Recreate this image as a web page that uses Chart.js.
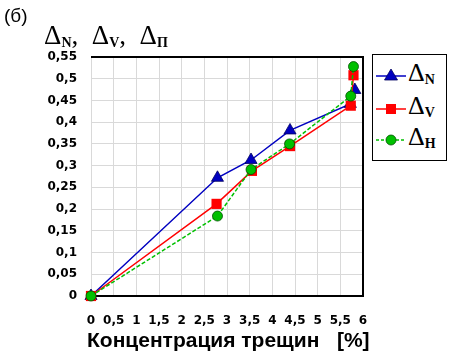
<!DOCTYPE html>
<html><head><meta charset="utf-8">
<script src="https://cdn.jsdelivr.net/npm/chart.js@4"></script>
<style>
html,body{margin:0;padding:0;background:#fff;}
#wrap{position:relative;width:452px;height:357px;overflow:hidden;}
canvas{position:absolute;left:0;top:0;}
.t{position:absolute;white-space:nowrap;color:#000;}
.serif{font-family:"Liberation Serif","DejaVu Serif",serif;}
#legend{position:absolute;left:372px;top:54px;width:75px;height:107px;border:1px solid #000;background:#fff;box-sizing:border-box;}
.le{position:absolute;left:2px;height:24px;}
.le svg{position:absolute;left:0;top:2px;}
.le .lab{position:absolute;left:33px;top:-6px;font-family:"Liberation Serif","DejaVu Serif",serif;font-size:26px;}
.le .lab sub{font-size:14px;font-weight:bold;vertical-align:-3px;}
.ts sub{font-size:14px;font-weight:bold;vertical-align:-3px;}
</style></head>
<body><div id="wrap">
<canvas id="c" width="452" height="357"></canvas>
<div class="t" style="left:4px;top:5px;font-family:'Liberation Sans',Arial,sans-serif;font-size:19px;">(б)</div>
<div class="t serif ts" style="left:44px;top:20px;font-size:27px;">Δ<sub>N</sub>,&nbsp; Δ<sub>V</sub>,&nbsp; Δ<sub>П</sub></div>
<div class="t" id="xt" style="left:87px;top:328px;font-family:'Liberation Sans',Arial,sans-serif;font-weight:bold;font-size:21px;">Концентрация трещин&nbsp;&nbsp;&nbsp;[%]</div>
<div id="legend">
 <div class="le" style="top:9px"><svg width="32" height="20"><line x1="1" y1="10" x2="31" y2="10" stroke="#0000c0" stroke-width="1.5"/><polygon points="16,3 22.5,14 9.5,14" fill="#0000c0" stroke="#000060" stroke-width="0.8"/></svg><span class="lab">Δ<sub>N</sub></span></div>
 <div class="le" style="top:42px"><svg width="32" height="20"><line x1="1" y1="10" x2="31" y2="10" stroke="#ff0000" stroke-width="1.5"/><rect x="11" y="5" width="10" height="10" fill="#ff0000"/></svg><span class="lab">Δ<sub>V</sub></span></div>
 <div class="le" style="top:73px"><svg width="32" height="20"><line x1="1" y1="10" x2="31" y2="10" stroke="#00c000" stroke-width="1.5" stroke-dasharray="3,2"/><circle cx="16" cy="10" r="5" fill="#00c000" stroke="#005000" stroke-width="0.8"/></svg><span class="lab">Δ<sub>H</sub></span></div>
</div>
</div>
<script>
const xValuesN = [0, 2.79, 3.53, 4.39, 5.72, 5.82];
const dN = [0, 0.272, 0.313, 0.381, 0.442, 0.474];
const xValuesV = [0, 2.77, 3.55, 4.39, 5.73, 5.79];
const dV = [0, 0.212, 0.288, 0.345, 0.438, 0.508];
const xValuesH = [0, 2.79, 3.53, 4.38, 5.73, 5.79];
const dH = [0, 0.184, 0.291, 0.350, 0.460, 0.528];
const xTicks = [0,0.5,1,1.5,2,2.5,3,3.5,4,4.5,5,5.5,6];
const yTicks = [0,0.05,0.1,0.15,0.2,0.25,0.3,0.35,0.4,0.45,0.5,0.55];

const pts = (xs, ys) => xs.map((x, i) => ({x: x, y: ys[i]}));
const fmt = v => String(Math.round(v*100)/100).replace('.', ',');

const frame = {
  id: 'frame',
  beforeDatasetsDraw(chart) {
    const a = chart.chartArea, ctx = chart.ctx;
    ctx.save();
    ctx.strokeStyle = '#000'; ctx.lineWidth = 2;
    ctx.beginPath();
    ctx.moveTo(a.left, a.top); ctx.lineTo(a.right, a.top); ctx.lineTo(a.right, a.bottom); ctx.lineTo(a.left, a.bottom);
    ctx.stroke();
    ctx.restore();
  }
};

new Chart(document.getElementById('c'), {
  type: 'scatter',
  data: {
    datasets: [
      {data: pts(xValuesN, dN), showLine: true, borderColor: '#0000c0', borderWidth: 1.5, pointStyle: 'triangle', pointRadius: 7, backgroundColor: '#0000c0', pointBorderColor: '#000060', pointBorderWidth: 0.8, order: 3, clip: false},
      {data: pts(xValuesV, dV), showLine: true, borderColor: '#ff0000', borderWidth: 1.5, pointStyle: 'rect', pointRadius: 7.2, backgroundColor: '#ff0000', pointBorderColor: '#ff0000', pointBorderWidth: 0, order: 2, clip: false},
      {data: pts(xValuesH, dH), showLine: true, borderColor: '#00c000', borderWidth: 1.5, borderDash: [4, 2], pointStyle: 'circle', pointRadius: 5, backgroundColor: '#00c000', pointBorderColor: '#005000', pointBorderWidth: 0.8, order: 1, clip: false}
    ]
  },
  options: {
    responsive: false, animation: false, devicePixelRatio: 1,
    layout: {padding: {left: 0, top: 57, right: 89, bottom: 0}},
    plugins: {legend: {display: false}, tooltip: {enabled: false}},
    scales: {
      x: {
        type: 'linear', min: 0, max: 6,
        afterBuildTicks: s => { s.ticks = xTicks.map(v => ({value: v})); },
        afterFit: s => { s.height = 61; },
        grid: {color: '#d9d9d9', lineWidth: 1, drawTicks: false},
        border: {display: false},
        ticks: {callback: v => fmt(v), padding: 18, autoSkip: false, maxRotation: 0, color: '#000', font: {family: 'DejaVu Sans', weight: 'bold', size: 12}}
      },
      y: {
        type: 'linear', min: 0, max: 0.55,
        afterBuildTicks: s => { s.ticks = yTicks.map(v => ({value: v})); },
        afterFit: s => { s.width = 91; },
        grid: {color: '#d9d9d9', lineWidth: 1, drawTicks: false},
        border: {display: false},
        ticks: {callback: v => fmt(v), padding: 14, autoSkip: false, color: '#000', font: {family: 'DejaVu Sans', weight: 'bold', size: 12}}
      }
    }
  },
  plugins: [frame]
});
</script>
</body></html>
